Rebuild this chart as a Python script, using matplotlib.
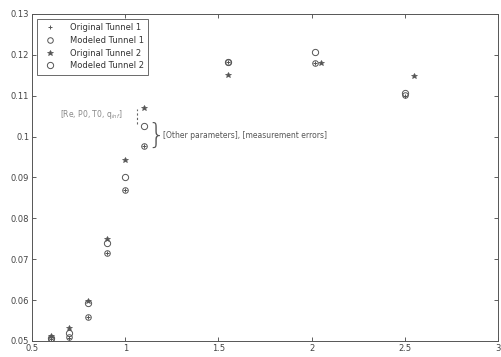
import matplotlib
matplotlib.use("Agg")
import matplotlib.pyplot as plt

# Data
x_t1 = [0.6, 0.7, 0.8, 0.9, 1.0, 1.1, 1.55, 2.02, 2.5]
orig_t1 = [0.0505, 0.0507, 0.0559, 0.0715, 0.0869, 0.0977, 0.1182, 0.1180, 0.1100]
model_t1 = [0.0505, 0.0510, 0.0559, 0.0715, 0.0869, 0.0977, 0.1182, 0.1180, 0.1102]
x_t2 = [0.6, 0.7, 0.8, 0.9, 1.0, 1.1, 1.55, 2.05, 2.55]
x_t2m = [0.6, 0.7, 0.8, 0.9, 1.0, 1.1, 1.55, 2.02, 2.5]
orig_t2 = [0.0513, 0.0532, 0.0598, 0.0750, 0.0943, 0.1070, 0.1150, 0.1180, 0.1148]
model_t2 = [0.0508, 0.0520, 0.0592, 0.0740, 0.0900, 0.1026, 0.1182, 0.1207, 0.1106]
labels = ["Original Tunnel 1", "Modeled Tunnel 1", "Original Tunnel 2", "Modeled Tunnel 2"]
xticks = [0.5, 1, 1.5, 2, 2.5, 3]
xticklabels = ["0.5", "1", "1.5", "2", "2.5", "3"]
yticks = [0.05, 0.06, 0.07, 0.08, 0.09, 0.1, 0.11, 0.12, 0.13]
yticklabels = ["0.05", "0.06", "0.07", "0.08", "0.09", "0.1", "0.11", "0.12", "0.13"]

plt.rcParams['font.family'] = ['DejaVu Sans']
fig = plt.figure(figsize=(5.01, 3.57), dpi=100)
ax = fig.add_axes([0.064, 0.045, 0.930, 0.916])
c = '#555555'
ax.plot(x_t1, orig_t1, linestyle='none', marker='+', ms=3.5, mew=0.7, color=c, label=labels[0])
ax.plot(x_t1, model_t1, linestyle='none', marker='o', ms=4, mfc='none', mew=0.7, color=c, label=labels[1])
ax.plot(x_t2, orig_t2, linestyle='none', marker='*', ms=3.8, mew=0.5, color=c, label=labels[2])
ax.plot(x_t2m, model_t2, linestyle='none', marker='o', ms=4.5, mfc='none', mew=0.7, color=c, label=labels[3])

ax.set_xlim(0.5, 3)
ax.set_ylim(0.05, 0.13)
ax.set_xticks(xticks)
ax.set_xticklabels(xticklabels)
ax.set_yticks(yticks)
ax.set_yticklabels(yticklabels)
ax.tick_params(direction='in', length=3, width=0.6, labelsize=6, colors='#444444',
               top=True, right=True, pad=2)
for s in ax.spines.values():
    s.set_linewidth(0.7)
    s.set_color('#555555')

leg = ax.legend(loc='upper left', fontsize=6, frameon=True, fancybox=False,
                edgecolor='#444444', borderpad=0.5, labelspacing=0.45,
                handlelength=2.2, handletextpad=1.2, borderaxespad=0.6)
leg.get_frame().set_linewidth(0.7)
for t in leg.get_texts():
    t.set_color('#333333')

# Annotations
xb = 1.065
ax.plot([xb, xb], [model_t2[5] + 0.0004, orig_t2[5] - 0.0002], linestyle=(0, (2, 2)), color='#666666', lw=0.8)
ax.text(xb - 0.08, (orig_t2[5] + model_t2[5]) / 2 + 0.0005, r"[Re, P0, T0, q$_{inf}$]", fontsize=5.5,
        color='#888888', ha='right', va='center')
ax.text(1.12, (model_t2[5] + orig_t1[5]) / 2, "}", fontsize=20, color='#555555',
        ha='left', va='center', fontweight='light')
ax.text(1.2, (model_t2[5] + orig_t1[5]) / 2, "[Other parameters], [measurement errors]", fontsize=5.5,
        color='#555555', ha='left', va='center')

fig.savefig("out.png", dpi=100)
